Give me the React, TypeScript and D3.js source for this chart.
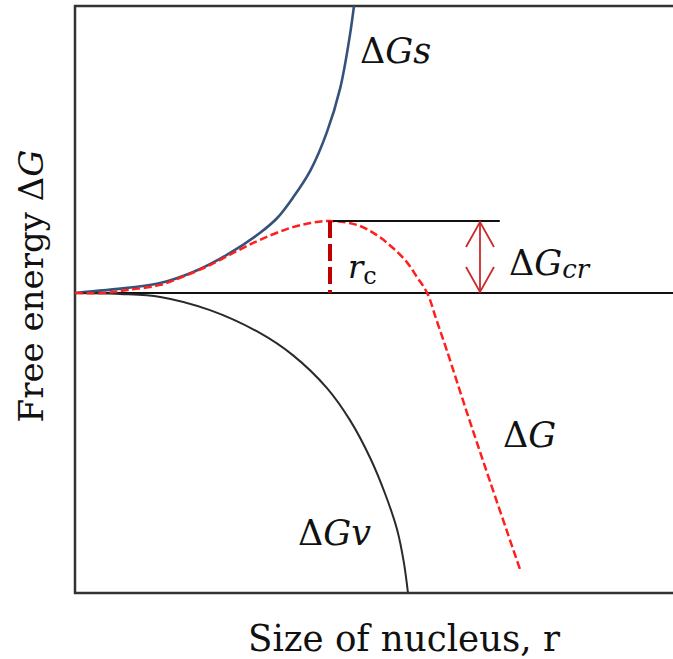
import React from "react";
import * as d3 from "d3";

// Nucleus radius r (arbitrary units) vs. free energy contributions (arbitrary units)
const surfaceR = [0, 0.87, 1.42, 1.97, 2.53, 3.08, 3.37, 3.63, 3.92, 4.2, 4.42, 4.58, 4.65];
const surfaceG = [0, 0.17, 0.33, 0.7, 1.27, 2.0, 2.5, 3.17, 4.07, 5.37, 6.83, 8.57, 9.57];

const volumeR = [0, 0.75, 1.42, 2.25, 3.08, 3.63, 4.2, 4.58, 4.92, 5.17, 5.37, 5.48, 5.55];
const volumeG = [0, -0.03, -0.13, -0.57, -1.33, -2.07, -3.17, -4.23, -5.5, -6.7, -7.9, -8.97, -10.0];

const totalR = [
  0, 0.47, 0.87, 1.42, 1.87, 2.25, 2.7, 3.08, 3.53, 3.92, 4.25, 4.7, 5.03, 5.3, 5.53, 5.7, 5.87,
  6.03, 6.2, 6.53, 6.92, 7.42,
];
const totalG = [
  0, 0, 0.1, 0.27, 0.6, 0.93, 1.4, 1.77, 2.13, 2.33, 2.4, 2.27, 1.93, 1.5, 1.03, 0.53, 0,
  -0.93, -1.93, -3.97, -6.3, -9.23,
];

// critical radius and barrier height
const rCritical = 4.25;
const gCritical = 2.4;
const barrierLineEnd = 7.08;
const arrowR = 6.75;

const W = 673;
const H = 659;
const left = 75;
const top = 6;
const bottom = 593;

const x = d3.scaleLinear().domain([0, 10]).range([left, left + 600]);
const y = d3.scaleLinear().domain([-10, 10]).range([bottom, bottom - 600]);

type P = [number, number];
const zip = (a: number[], b: number[]): P[] => a.map((v, i) => [v, b[i]]);

const line = d3
  .line<P>()
  .x((d) => x(d[0]))
  .y((d) => y(d[1]))
  .curve(d3.curveCatmullRom.alpha(0.5));

const surfacePts = zip(surfaceR, surfaceG);
const volumePts = zip(volumeR, volumeG);
const totalPts = zip(totalR, totalG);

const serif = "'DejaVu Serif', serif";

export default function App() {
  const x0 = x(0);
  const y0 = y(0);
  const yc = y(gCritical);
  const xa = x(arrowR);
  return (
    <svg
      width={W}
      height={H}
      viewBox={`0 0 ${W} ${H}`}
      style={{ position: "absolute", left: 0, top: 0, background: "#fff" }}
    >
      {/* frame */}
      <path
        d={`M${W + 2},${top} H${left} V${bottom} H${W + 2}`}
        fill="none"
        stroke="#333"
        strokeWidth={2.5}
      />
      {/* zero line */}
      <line x1={x0} x2={W + 2} y1={y0} y2={y0} stroke="#111" strokeWidth={2} />

      {/* surface term */}
      <path d={line(surfacePts) || ""} fill="none" stroke="#34527a" strokeWidth={2.6} />
      {/* volume term */}
      <path d={line(volumePts) || ""} fill="none" stroke="#2a2a2a" strokeWidth={2} />

      {/* total free energy */}
      <path
        d={line(totalPts) || ""}
        fill="none"
        stroke="#ff1f1f"
        strokeWidth={2.5}
        strokeDasharray="8 3.5"
      />

      {/* barrier level */}
      <line x1={x(rCritical) + 3} x2={x(barrierLineEnd)} y1={yc} y2={yc} stroke="#111" strokeWidth={2} />
      {/* critical radius marker */}
      <line
        x1={x(rCritical)}
        x2={x(rCritical)}
        y1={yc}
        y2={y0}
        stroke="#c00000"
        strokeWidth={4}
        strokeDasharray="17 6"
      />

      {/* double arrow for the barrier */}
      <g stroke="#cc2a2a" strokeWidth={1.8} fill="none">
        <line x1={xa} x2={xa} y1={yc + 1} y2={y0 - 1} />
        <path d={`M${xa - 14},${yc + 26} L${xa},${yc + 1} L${xa + 14},${yc + 26}`} />
        <path d={`M${xa - 14},${y0 - 26} L${xa},${y0 - 1} L${xa + 14},${y0 - 26}`} />
      </g>

      {/* curve labels */}
      <g fontFamily={serif} fill="#111">
        <text x={360} y={63} fontSize={35}>
          Δ<tspan fontStyle="italic">Gs</tspan>
        </text>
        <text x={298} y={545} fontSize={35}>
          Δ<tspan fontStyle="italic">Gv</tspan>
        </text>
        <text x={503} y={447} fontSize={35}>
          Δ<tspan fontStyle="italic">G</tspan>
        </text>
        <text x={509} y={275} fontSize={35}>
          Δ<tspan fontStyle="italic">G</tspan>
          <tspan fontStyle="italic" fontSize={26} dy={3}>cr</tspan>
        </text>
        <text x={348} y={278} fontSize={32}>
          <tspan fontStyle="italic">r</tspan>
          <tspan fontSize={24} dy={6}>c</tspan>
        </text>
      </g>

      {/* axis titles */}
      <text
        x={248}
        y={651}
        fontFamily={serif}
        fontSize={38}
        fill="#111"
        textLength={312}
        lengthAdjust="spacingAndGlyphs"
      >
        Size of nucleus, r
      </text>
      <text
        transform="translate(43,286) rotate(-90)"
        textAnchor="middle"
        fontFamily={serif}
        fontSize={34}
        fill="#111"
      >
        Free energy Δ<tspan fontStyle="italic">G</tspan>
      </text>
    </svg>
  );
}
